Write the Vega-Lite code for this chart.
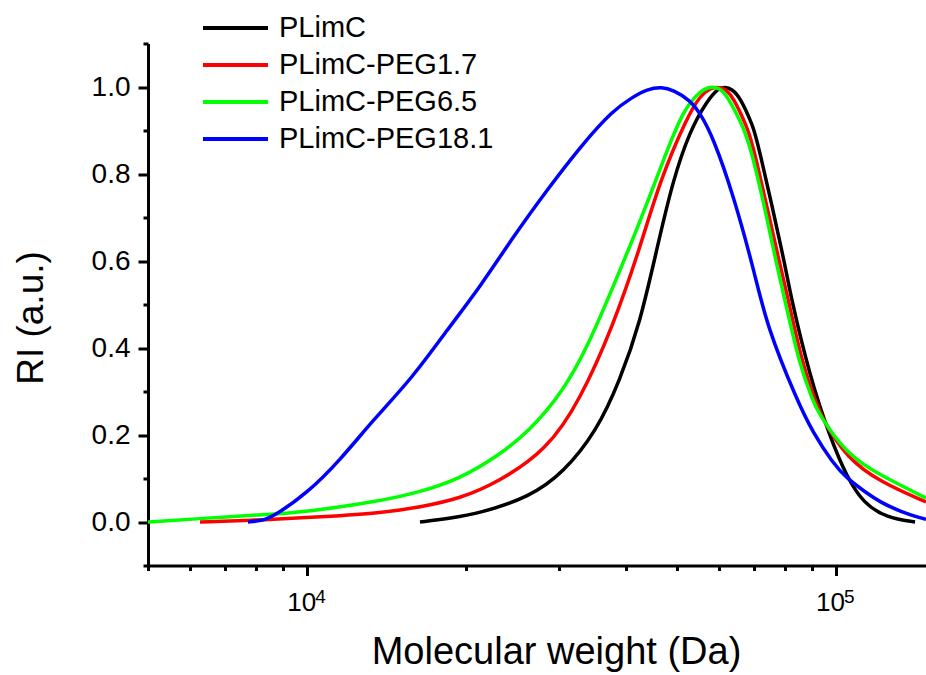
{
  "$schema": "https://vega.github.io/schema/vega-lite/v6.json",
  "width": 778,
  "height": 522,
  "autosize": {"type": "none"},
  "padding": {"left": 148, "top": 43.5, "right": 0, "bottom": 109.5},
  "background": "white",
  "config": {
    "view": {"stroke": null},
    "font": "Liberation Sans",
    "axis": {
      "domainColor": "black", "domainWidth": 3, "tickColor": "black", "tickWidth": 3,
      "labelColor": "black", "titleColor": "black", "grid": false,
      "labelFont": "Liberation Sans", "titleFont": "Liberation Sans", "titleFontWeight": "normal"
    }
  },
  "data": {"values": [
    {"s": "PLimC", "mw": 16342, "ri": 0},
    {"s": "PLimC", "mw": 18500, "ri": 0.008},
    {"s": "PLimC", "mw": 21223, "ri": 0.02},
    {"s": "PLimC", "mw": 26385, "ri": 0.058},
    {"s": "PLimC", "mw": 30454, "ri": 0.112},
    {"s": "PLimC", "mw": 35318, "ri": 0.21},
    {"s": "PLimC", "mw": 39040, "ri": 0.326},
    {"s": "PLimC", "mw": 42598, "ri": 0.457},
    {"s": "PLimC", "mw": 45886, "ri": 0.63},
    {"s": "PLimC", "mw": 49173, "ri": 0.786},
    {"s": "PLimC", "mw": 52959, "ri": 0.9},
    {"s": "PLimC", "mw": 57016, "ri": 0.968},
    {"s": "PLimC", "mw": 60000, "ri": 0.998},
    {"s": "PLimC", "mw": 61668, "ri": 1.0},
    {"s": "PLimC", "mw": 63500, "ri": 0.996},
    {"s": "PLimC", "mw": 66000, "ri": 0.975},
    {"s": "PLimC", "mw": 69665, "ri": 0.91},
    {"s": "PLimC", "mw": 70897, "ri": 0.88},
    {"s": "PLimC", "mw": 80078, "ri": 0.595},
    {"s": "PLimC", "mw": 81840, "ri": 0.526},
    {"s": "PLimC", "mw": 89290, "ri": 0.333},
    {"s": "PLimC", "mw": 97440, "ri": 0.195},
    {"s": "PLimC", "mw": 104900, "ri": 0.103},
    {"s": "PLimC", "mw": 112500, "ri": 0.044},
    {"s": "PLimC", "mw": 124870, "ri": 0.009},
    {"s": "PLimC", "mw": 141110, "ri": 0},

    {"s": "PLimC-PEG1.7", "mw": 6271, "ri": 0},
    {"s": "PLimC-PEG1.7", "mw": 8000, "ri": 0.004},
    {"s": "PLimC-PEG1.7", "mw": 10000, "ri": 0.01},
    {"s": "PLimC-PEG1.7", "mw": 13727, "ri": 0.02},
    {"s": "PLimC-PEG1.7", "mw": 16500, "ri": 0.035},
    {"s": "PLimC-PEG1.7", "mw": 19454, "ri": 0.054},
    {"s": "PLimC-PEG1.7", "mw": 22854, "ri": 0.09},
    {"s": "PLimC-PEG1.7", "mw": 28408, "ri": 0.165},
    {"s": "PLimC-PEG1.7", "mw": 32807, "ri": 0.28},
    {"s": "PLimC-PEG1.7", "mw": 37871, "ri": 0.45},
    {"s": "PLimC-PEG1.7", "mw": 42598, "ri": 0.63},
    {"s": "PLimC-PEG1.7", "mw": 46492, "ri": 0.786},
    {"s": "PLimC-PEG1.7", "mw": 52268, "ri": 0.93},
    {"s": "PLimC-PEG1.7", "mw": 55335, "ri": 0.98},
    {"s": "PLimC-PEG1.7", "mw": 58000, "ri": 0.998},
    {"s": "PLimC-PEG1.7", "mw": 59810, "ri": 1.0},
    {"s": "PLimC-PEG1.7", "mw": 61800, "ri": 0.996},
    {"s": "PLimC-PEG1.7", "mw": 64000, "ri": 0.975},
    {"s": "PLimC-PEG1.7", "mw": 67875, "ri": 0.908},
    {"s": "PLimC-PEG1.7", "mw": 69665, "ri": 0.87},
    {"s": "PLimC-PEG1.7", "mw": 78350, "ri": 0.59},
    {"s": "PLimC-PEG1.7", "mw": 80770, "ri": 0.526},
    {"s": "PLimC-PEG1.7", "mw": 86610, "ri": 0.356},
    {"s": "PLimC-PEG1.7", "mw": 92050, "ri": 0.27},
    {"s": "PLimC-PEG1.7", "mw": 94500, "ri": 0.234},
    {"s": "PLimC-PEG1.7", "mw": 104900, "ri": 0.147},
    {"s": "PLimC-PEG1.7", "mw": 121130, "ri": 0.092},
    {"s": "PLimC-PEG1.7", "mw": 148000, "ri": 0.046},

    {"s": "PLimC-PEG6.5", "mw": 5000, "ri": 0},
    {"s": "PLimC-PEG6.5", "mw": 6271, "ri": 0.008},
    {"s": "PLimC-PEG6.5", "mw": 8616, "ri": 0.018},
    {"s": "PLimC-PEG6.5", "mw": 10000, "ri": 0.024},
    {"s": "PLimC-PEG6.5", "mw": 13500, "ri": 0.046},
    {"s": "PLimC-PEG6.5", "mw": 16500, "ri": 0.07},
    {"s": "PLimC-PEG6.5", "mw": 19454, "ri": 0.1},
    {"s": "PLimC-PEG6.5", "mw": 22854, "ri": 0.15},
    {"s": "PLimC-PEG6.5", "mw": 26385, "ri": 0.21},
    {"s": "PLimC-PEG6.5", "mw": 30454, "ri": 0.3},
    {"s": "PLimC-PEG6.5", "mw": 33819, "ri": 0.4},
    {"s": "PLimC-PEG6.5", "mw": 37871, "ri": 0.54},
    {"s": "PLimC-PEG6.5", "mw": 42598, "ri": 0.69},
    {"s": "PLimC-PEG6.5", "mw": 47097, "ri": 0.83},
    {"s": "PLimC-PEG6.5", "mw": 51370, "ri": 0.947},
    {"s": "PLimC-PEG6.5", "mw": 55335, "ri": 0.99},
    {"s": "PLimC-PEG6.5", "mw": 57300, "ri": 0.999},
    {"s": "PLimC-PEG6.5", "mw": 59045, "ri": 1.0},
    {"s": "PLimC-PEG6.5", "mw": 60800, "ri": 0.994},
    {"s": "PLimC-PEG6.5", "mw": 62500, "ri": 0.975},
    {"s": "PLimC-PEG6.5", "mw": 65842, "ri": 0.924},
    {"s": "PLimC-PEG6.5", "mw": 68770, "ri": 0.87},
    {"s": "PLimC-PEG6.5", "mw": 74034, "ri": 0.7},
    {"s": "PLimC-PEG6.5", "mw": 76654, "ri": 0.61},
    {"s": "PLimC-PEG6.5", "mw": 79380, "ri": 0.53},
    {"s": "PLimC-PEG6.5", "mw": 85480, "ri": 0.356},
    {"s": "PLimC-PEG6.5", "mw": 90480, "ri": 0.28},
    {"s": "PLimC-PEG6.5", "mw": 92050, "ri": 0.255},
    {"s": "PLimC-PEG6.5", "mw": 104900, "ri": 0.154},
    {"s": "PLimC-PEG6.5", "mw": 121130, "ri": 0.108},
    {"s": "PLimC-PEG6.5", "mw": 148000, "ri": 0.055},

    {"s": "PLimC-PEG18.1", "mw": 7727, "ri": 0},
    {"s": "PLimC-PEG18.1", "mw": 8200, "ri": 0.003},
    {"s": "PLimC-PEG18.1", "mw": 8616, "ri": 0.012},
    {"s": "PLimC-PEG18.1", "mw": 10000, "ri": 0.066},
    {"s": "PLimC-PEG18.1", "mw": 11535, "ri": 0.142},
    {"s": "PLimC-PEG18.1", "mw": 13316, "ri": 0.234},
    {"s": "PLimC-PEG18.1", "mw": 15853, "ri": 0.333},
    {"s": "PLimC-PEG18.1", "mw": 18378, "ri": 0.441},
    {"s": "PLimC-PEG18.1", "mw": 21223, "ri": 0.54},
    {"s": "PLimC-PEG18.1", "mw": 24502, "ri": 0.655},
    {"s": "PLimC-PEG18.1", "mw": 28408, "ri": 0.763},
    {"s": "PLimC-PEG18.1", "mw": 32807, "ri": 0.862},
    {"s": "PLimC-PEG18.1", "mw": 37871, "ri": 0.947},
    {"s": "PLimC-PEG18.1", "mw": 41316, "ri": 0.977},
    {"s": "PLimC-PEG18.1", "mw": 43914, "ri": 0.995},
    {"s": "PLimC-PEG18.1", "mw": 46900, "ri": 1.0},
    {"s": "PLimC-PEG18.1", "mw": 49173, "ri": 0.993},
    {"s": "PLimC-PEG18.1", "mw": 52959, "ri": 0.97},
    {"s": "PLimC-PEG18.1", "mw": 55335, "ri": 0.94},
    {"s": "PLimC-PEG18.1", "mw": 58532, "ri": 0.885},
    {"s": "PLimC-PEG18.1", "mw": 63856, "ri": 0.755},
    {"s": "PLimC-PEG18.1", "mw": 70280, "ri": 0.57},
    {"s": "PLimC-PEG18.1", "mw": 74034, "ri": 0.45},
    {"s": "PLimC-PEG18.1", "mw": 84360, "ri": 0.28},
    {"s": "PLimC-PEG18.1", "mw": 90480, "ri": 0.205},
    {"s": "PLimC-PEG18.1", "mw": 98700, "ri": 0.135},
    {"s": "PLimC-PEG18.1", "mw": 104900, "ri": 0.1},
    {"s": "PLimC-PEG18.1", "mw": 114450, "ri": 0.066},
    {"s": "PLimC-PEG18.1", "mw": 121130, "ri": 0.046},
    {"s": "PLimC-PEG18.1", "mw": 132130, "ri": 0.024},
    {"s": "PLimC-PEG18.1", "mw": 148000, "ri": 0.006}
  ]},
  "layer": [
    {
      "mark": {"type": "line", "strokeWidth": 3.5, "interpolate": "basis", "clip": true},
      "encoding": {
        "x": {
          "field": "mw", "type": "quantitative",
          "scale": {"type": "log", "domain": [5000, 148000], "nice": false, "zero": false},
          "axis": {
            "values": [10000, 100000],
            "labelExpr": "'10'",
            "labelOffset": -6,
            "tickSize": 10, "labelFontSize": 26, "labelPadding": 14,
            "title": "Molecular weight (Da)", "titleFontSize": 38,
            "titleX": 408, "titleY": 98, "titleAlign": "center", "titleBaseline": "alphabetic",
            "orient": "bottom"
          }
        },
        "y": {
          "field": "ri", "type": "quantitative",
          "scale": {"domain": [-0.1, 1.1], "nice": false, "zero": false},
          "axis": {
            "values": [0, 0.2, 0.4, 0.6, 0.8, 1.0],
            "format": ".1f",
            "tickSize": 10, "labelFontSize": 28, "labelPadding": 8,
            "title": "RI (a.u.)", "titleFontSize": 37,
            "titleX": -106, "titleY": 274, "titleAngle": -90, "titleAlign": "center", "titleBaseline": "alphabetic",
            "orient": "left"
          }
        },
        "color": {
          "field": "s", "type": "nominal",
          "scale": {
            "domain": ["PLimC", "PLimC-PEG1.7", "PLimC-PEG6.5", "PLimC-PEG18.1"],
            "range": ["#000000", "#ff0000", "#00ff00", "#0000ff"]
          },
          "legend": {
            "title": null,
            "orient": "none",
            "legendX": 72.5,
            "legendY": -30.5,
            "padding": 0,
            "symbolType": "M-2.5,0H2.5",
            "symbolSize": 676,
            "symbolStrokeWidth": 4,
            "labelOffset": 28.5,
            "labelFontSize": 29,
            "labelFont": "Liberation Sans",
            "labelColor": "black",
            "rowPadding": 7,
            "labelLimit": 400
          }
        }
      }
    },
    {
      "mark": {"type": "line", "opacity": 0},
      "encoding": {
        "x": {
          "field": "mw", "type": "quantitative",
          "axis": {
            "values": [5000, 6000, 7000, 8000, 9000, 20000, 30000, 40000, 50000, 60000, 70000, 80000, 90000],
            "labels": false, "domain": false, "tickSize": 5, "title": null, "orient": "bottom"
          }
        },
        "y": {
          "field": "ri", "type": "quantitative",
          "axis": {
            "values": [-0.1, 0.1, 0.3, 0.5, 0.7, 0.9, 1.1],
            "labels": false, "domain": false, "tickSize": 5, "title": null, "orient": "left"
          }
        },
        "detail": {"field": "s"}
      }
    },
    {
      "data": {"values": [{"mw": 10000, "e": "4"}, {"mw": 100000, "e": "5"}]},
      "mark": {"type": "text", "fontSize": 19, "font": "Liberation Sans", "color": "black", "align": "left", "baseline": "top", "dx": 8, "dy": 22, "clip": false},
      "encoding": {
        "x": {"field": "mw", "type": "quantitative", "axis": null},
        "y": {"datum": -0.1, "axis": null},
        "text": {"field": "e"}
      }
    }
  ],
  "resolve": {"axis": {"x": "independent", "y": "independent"}}
}
